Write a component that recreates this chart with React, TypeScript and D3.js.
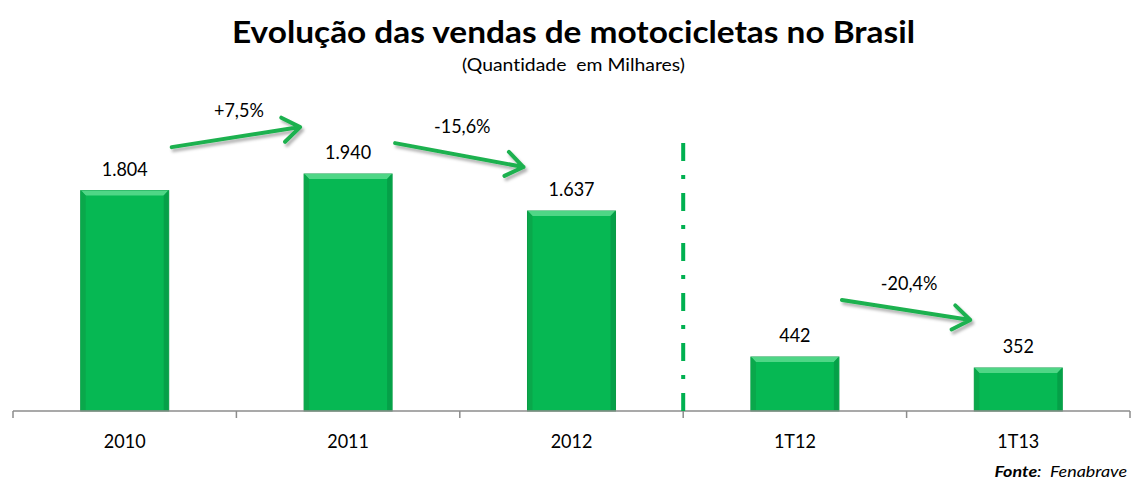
import { useEffect, useRef } from "react";
import * as d3 from "d3";

// categories and values (thousands of units)
const categories = ["2010", "2011", "2012", "1T12", "1T13"];
const sales = [1804, 1940, 1637, 442, 352];
const valueLabels = ["1.804", "1.940", "1.637", "442", "352"];

// change arrows: from / to category index, label, start / end heights in value units
const arrowFrom = [0, 1, 3];
const arrowTo = [1, 2, 4];
const arrowLabels = ["+7,5%", "-15,6%", "-20,4%"];
const arrowStart = [2160, 2193, 908];
const arrowEnd = [2324, 1997, 745];

const W = 1134;
const H = 481;
const FONT = "Lato, 'Open Sans', sans-serif";

function App() {
  const ref = useRef<SVGSVGElement>(null);

  useEffect(() => {
    document.body.style.margin = "0";
    const svg = d3.select(ref.current);
    svg.selectAll("*").remove();

    const x = d3.scaleBand().domain(categories).range([13, 1130]).paddingInner(0.606).paddingOuter(0.303);
    const y = d3.scaleLinear().domain([0, 1940]).range([411, 174]);

    const defs = svg.append("defs");
    const shadow = defs.append("filter").attr("id", "shadow").attr("x", "-20%").attr("y", "-50%").attr("width", "140%").attr("height", "200%");
    shadow.append("feDropShadow").attr("dx", 2).attr("dy", 3).attr("stdDeviation", 1.5).attr("flood-color", "#000").attr("flood-opacity", 0.3);

    // narrow-ish label, like the original's Calibri
    const label = (g: any, tx: number, ty: number, txt: string, size = 20, sx = 0.9) =>
      g.append("text")
        .attr("transform", `translate(${tx},${ty}) scale(${sx},1)`)
        .attr("text-anchor", "middle")
        .style("font-family", FONT).style("font-size", `${size}px`)
        .attr("fill", "#000")
        .text(txt);

    // title
    svg.append("text")
      .attr("x", 232).attr("y", 43)
      .attr("textLength", 683).attr("lengthAdjust", "spacingAndGlyphs")
      .style("font-family", FONT).style("font-weight", "bold").style("font-size", "30px")
      .attr("fill", "#000")
      .text("Evolução das vendas de motocicletas no Brasil");
    svg.append("text")
      .attr("x", 462).attr("y", 71)
      .attr("textLength", 223).attr("lengthAdjust", "spacingAndGlyphs")
      .style("font-family", FONT).style("font-size", "18px").style("white-space", "pre")
      .style("font-variant-ligatures", "none")
      .attr("fill", "#000")
      .text("(Quantidade  em Milhares)");

    // bars
    const bars = svg.append("g").selectAll("g").data(sales).join("g");
    bars.append("rect")
      .attr("x", (d, i) => x(categories[i])!)
      .attr("y", (d) => y(d))
      .attr("width", x.bandwidth())
      .attr("height", (d) => y(0) - y(d))
      .attr("fill", "#06b853")
      .attr("stroke", "#0a9c45")
      .attr("stroke-width", 1);
    const bev = 5;
    // top bevel
    bars.append("path")
      .attr("d", (d, i) => {
        const x0 = x(categories[i])!, x1 = x0 + x.bandwidth(), y0 = y(d);
        return `M${x0},${y0}L${x1},${y0}L${x1 - bev},${y0 + bev}L${x0 + bev},${y0 + bev}Z`;
      })
      .attr("fill", "#4fd686");
    // side bevels
    bars.append("path")
      .attr("d", (d, i) => {
        const x0 = x(categories[i])!, y0 = y(d), y1 = y(0);
        return `M${x0 + 0.5},${y0}L${x0 + bev},${y0 + bev}L${x0 + bev},${y1}L${x0 + 0.5},${y1}Z`;
      })
      .attr("fill", "#0aa84b");
    bars.append("path")
      .attr("d", (d, i) => {
        const x1 = x(categories[i])! + x.bandwidth(), y0 = y(d), y1 = y(0);
        return `M${x1 - 0.5},${y0}L${x1 - bev},${y0 + bev}L${x1 - bev},${y1}L${x1 - 0.5},${y1}Z`;
      })
      .attr("fill", "#05a048");

    // value labels
    const vl = svg.append("g");
    sales.forEach((d, i) => label(vl, x(categories[i])! + x.bandwidth() / 2, y(d) - 15, valueLabels[i]));

    // axis
    const axis = svg.append("g").attr("transform", `translate(0,${y(0)})`);
    axis.append("line").attr("x1", 13).attr("x2", 1130).attr("stroke", "#8c8c8c").attr("stroke-width", 1.5);
    const ticks = categories.map((c) => x(c)! - (x.step() - x.bandwidth()) / 2).concat([1130]);
    axis.selectAll("line.tick").data(ticks).join("line")
      .attr("class", "tick")
      .attr("x1", (d) => d).attr("x2", (d) => d)
      .attr("y1", 0).attr("y2", 7)
      .attr("stroke", "#8c8c8c").attr("stroke-width", 1.5);
    categories.forEach((c) => label(axis, x(c)! + x.bandwidth() / 2, 37, c));

    // separator between years and quarters
    const sepX = (x("2012")! + x.bandwidth() + x("1T12")!) / 2;
    svg.append("line")
      .attr("x1", sepX).attr("x2", sepX)
      .attr("y1", 143).attr("y2", 422)
      .attr("stroke", "#00b050").attr("stroke-width", 4)
      .attr("stroke-dasharray", "18,14,4,14");

    // change arrows
    const ag = svg.append("g");
    arrowFrom.forEach((f, i) => {
      const t = arrowTo[i];
      const x0 = x(categories[f])! + x.bandwidth() + 3;
      const x1 = x(categories[t])! - 4;
      const y0 = y(arrowStart[i]);
      const y1 = y(arrowEnd[i]);
      const ang = Math.atan2(y1 - y0, x1 - x0);
      const hl = 21, ha = 0.62;
      const p1 = [x1 - hl * Math.cos(ang - ha), y1 - hl * Math.sin(ang - ha)];
      const p2 = [x1 - hl * Math.cos(ang + ha), y1 - hl * Math.sin(ang + ha)];
      ag.append("path")
        .attr("d", `M${x0},${y0}L${x1},${y1}M${p1[0]},${p1[1]}L${x1},${y1}L${p2[0]},${p2[1]}`)
        .attr("fill", "none")
        .attr("stroke", "#1fb14f")
        .attr("stroke-width", 4)
        .attr("stroke-linecap", "round")
        .attr("stroke-linejoin", "round")
        .attr("filter", "url(#shadow)");
      label(ag, (x0 + x1) / 2 + 3, Math.min(y0, y1) - 10, arrowLabels[i]);
    });

    // source
    const src = svg.append("text")
      .attr("transform", "translate(1127,477) scale(1.12,1)")
      .attr("text-anchor", "end")
      .style("font-family", FONT).style("font-size", "16px").style("font-style", "italic").style("white-space", "pre")
      .attr("fill", "#000");
    src.append("tspan").style("font-weight", "bold").text("Fonte");
    src.append("tspan").text(":  Fenabrave");
  }, []);

  return <svg ref={ref} width={W} height={H} style={{ display: "block", background: "#fff" }} />;
}

export default App;
